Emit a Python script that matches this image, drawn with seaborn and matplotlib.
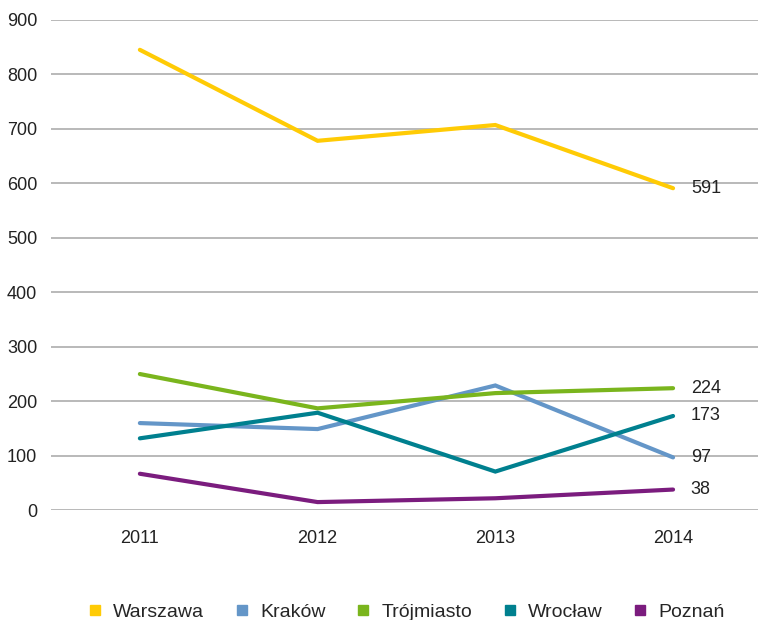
import matplotlib
matplotlib.use("Agg")
import matplotlib.pyplot as plt
from matplotlib.lines import Line2D
import seaborn as sns
import pandas as pd

years = ["2011", "2012", "2013", "2014"]
cities = ["Warszawa", "Kraków", "Trójmiasto", "Wrocław", "Poznań"]
warszawa = [845, 678, 707, 591]
krakow = [160, 149, 229, 97]
trojmiasto = [250, 187, 215, 224]
wroclaw = [132, 179, 71, 173]
poznan = [67, 15, 22, 38]
colors = ["#FFCB05", "#6496C8", "#7AB51D", "#00808F", "#7B1C7E"]
y_ticks = [0, 100, 200, 300, 400, 500, 600, 700, 800, 900]

series = [warszawa, krakow, trojmiasto, wroclaw, poznan]
rows = []
for city, vals in zip(cities, series):
    for i, v in enumerate(vals):
        rows.append({"year_idx": i, "value": v, "city": city})
df = pd.DataFrame(rows)

sns.set_theme(style="white")
plt.rcParams["font.family"] = ["Liberation Sans", "DejaVu Sans"]

fig = plt.figure(figsize=(7.58, 6.2), dpi=100)
ax = fig.add_axes([0.0673, 0.177, 0.9327, 0.791])

palette = dict(zip(cities, colors))
sns.lineplot(data=df, x="year_idx", y="value", hue="city", hue_order=cities,
             palette=palette, linewidth=3.0, ax=ax, legend=False, sort=False)
for line in ax.lines:
    line.set_solid_capstyle("round")
    line.set_solid_joinstyle("miter")

ax.set_xlim(-0.5, 3.478)
ax.set_ylim(0, 900)
ax.set_yticks(y_ticks)
ax.set_yticklabels([str(t) for t in y_ticks], fontsize=13, color="#222222")
ax.set_xticks(range(len(years)))
ax.set_xticklabels(years, fontsize=13, color="#222222")
ax.tick_params(axis="y", length=0, pad=10)
ax.tick_params(axis="x", length=0, pad=14)

ax.grid(axis="y", color="#B3B3B3", linewidth=1.3)
ax.grid(axis="x", visible=False)
ax.set_axisbelow(True)
for sp in ax.spines.values():
    sp.set_visible(False)
ax.set_xlabel("")
ax.set_ylabel("")

# End-of-line value labels
for vals in series:
    ax.text(3.1, vals[-1], str(vals[-1]), fontsize=13, color="#222222",
            va="center", ha="left")

handles = [Line2D([0], [0], marker="s", linestyle="none", markersize=7.2,
                  markerfacecolor=c, markeredgecolor=c) for c in colors]
fig.legend(handles, cities, loc="center", bbox_to_anchor=(0.5376, 0.0129),
           ncol=5, frameon=False, fontsize=14, handletextpad=0.67,
           columnspacing=1.7, handlelength=0.5, borderpad=0)

fig.savefig("out.png", dpi=100)
